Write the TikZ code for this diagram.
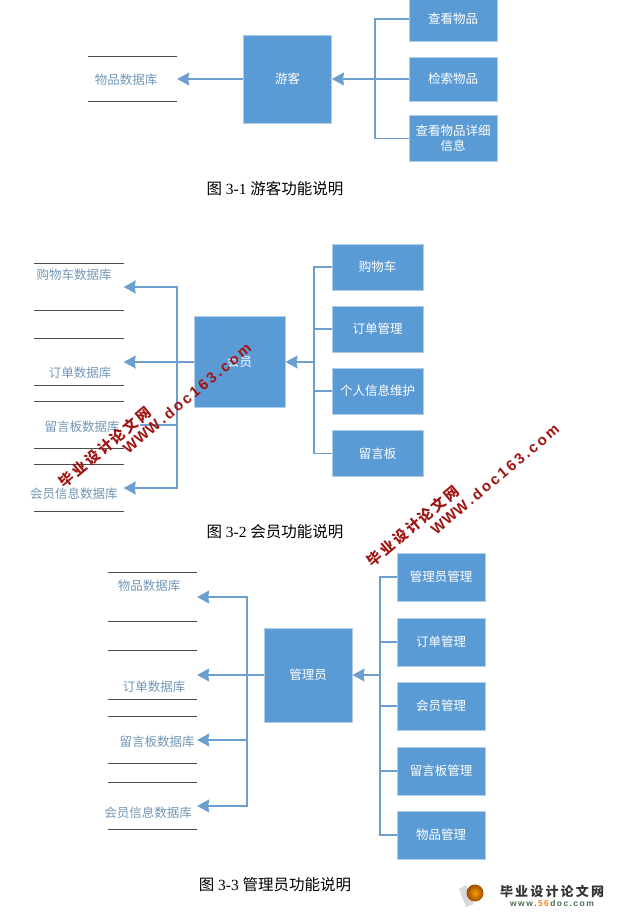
\documentclass[tikz,border=0pt]{standalone}
\usepackage{fontspec}
\setmainfont{Liberation Serif}
\newfontfamily\cjk{Noto Sans CJK SC}
\newfontfamily\wmfont[Scale=1]{Liberation Sans}
\usetikzlibrary{arrows.meta,calc}
\definecolor{boxblue}{HTML}{5B9BD5}
\definecolor{edgeblue}{HTML}{AFCDE8}
\definecolor{lineblue}{HTML}{6C9FCF}
\definecolor{dbtext}{HTML}{7397B8}
\definecolor{wmred}{HTML}{A01414}
\definecolor{logogreen}{HTML}{4F6B4F}
\tikzset{
  x=1pt,y=-1pt,
  bluebox/.style={draw=edgeblue,line width=1pt,fill=boxblue,text=white,inner sep=0pt,font=\cjk\fontsize{12.5}{15}\selectfont,align=center},
  leafbox/.style={bluebox,minimum width=88pt,minimum height=46pt},
  dbnode/.style={minimum width=89pt,inner sep=0pt},
  dblabel/.style={text=dbtext,font=\cjk\fontsize{12.5}{15}\selectfont,inner sep=0pt},
  dbrule/.style={draw=black!70,line width=0.9pt},
  conn/.style={draw=lineblue,line width=1.4pt},
  arr/.style={conn,-{Stealth[length=12pt,width=13pt,inset=1pt]}},
  caption/.style={inner sep=0pt,font=\fontsize{15.5}{18}\selectfont},
  wmcjk/.style={text=wmred,rotate=40,inner sep=0pt,font=\cjk\bfseries\fontsize{14.5}{17}\selectfont},
  wmlat/.style={text=wmred,rotate=40,inner sep=0pt,font=\wmfont\bfseries\fontsize{15}{17}\selectfont},
}
\newcommand{\dbstore}[4]{% name, x, ytop, ybottom
  \node[dbnode,minimum height=#4pt-#3pt] (#1) at (#2,{(#3+#4)/2}) {};
  \draw[dbrule] (#1.north west) -- (#1.north east) (#1.south west) -- (#1.south east);
}
\begin{document}
\begin{tikzpicture}
\useasboundingbox (0,0) rectangle (622,913);
\fill[white] (0,0) rectangle (622,913);
\begin{scope}
\clip (0,0) rectangle (622,913);
% ---------- Figure 3-1
\node[bluebox,minimum width=88pt,minimum height=88pt] (guest) at (287.5,79) {游客};
\node[leafbox,minimum height=44pt] (g1) at (453,19) {查看物品};
\node[leafbox,minimum height=44pt] (g2) at (453,79) {检索物品};
\node[leafbox] (g3) at (453,138.5) {查看物品详细\\信息};
\dbstore{gdb}{132.5}{57}{101}
\node[dblabel] (gdbl) at (126,80) {物品数据库};
\coordinate (gt) at (375,79);
\draw[conn] (g1.west) -| (gt) (g3.west) -| (gt) (g2.west) -- (gt);
\draw[arr] (gt) -- (guest.east);
\draw[arr] (guest.west) -- (gdb.east);
% ---------- Figure 3-2
\node[bluebox,minimum width=91pt,minimum height=91pt] (mem) at (239.5,362) {会员};
\node[leafbox,minimum width=91pt] (m1) at (377.5,267) {购物车};
\node[leafbox,minimum width=91pt] (m2) at (377.5,329) {订单管理};
\node[leafbox,minimum width=91pt] (m3) at (377.5,391) {个人信息维护};
\node[leafbox,minimum width=91pt] (m4) at (377.5,453.5) {留言板};
\coordinate (mt) at (314,362);
\draw[conn] (m1.west) -| (mt) (m4.west) -| (mt) (m2.west) -| (mt) (m3.west) -| (mt);
\draw[arr] (mt) -- (mem.east);
\dbstore{mdb1}{79}{264}{310}
\dbstore{mdb2}{79}{339}{385}
\dbstore{mdb3}{79}{402}{448}
\dbstore{mdb4}{79}{465}{511}
\coordinate (mlt) at (177,362);
\coordinate (mstub) at (140,425);
\draw[conn] (mem.west) -- (mlt);
\draw[arr] (mlt) |- (mdb1.east);
\draw[arr] (mlt) -- (mdb2.east);
\draw[arr] (mlt) |- (mdb4.east);
\draw[conn] (mlt) |- (mstub);
\node[dblabel] (mdl1) at (74,275) {购物车数据库};
\node[dblabel] (mdl2) at (80,373) {订单数据库};
\node[dblabel] (mdl3) at (82,427) {留言板数据库};
\node[dblabel] (mdl4) at (74,494) {会员信息数据库};
% ---------- Figure 3-3
\node[bluebox,minimum width=88pt,minimum height=94pt] (adm) at (308,675) {管理员};
\node[leafbox,minimum height=48pt] (a1) at (441,577) {管理员管理};
\node[leafbox,minimum height=48pt] (a2) at (441,642) {订单管理};
\node[leafbox,minimum height=48pt] (a3) at (441,706) {会员管理};
\node[leafbox,minimum height=48pt] (a4) at (441,771) {留言板管理};
\node[leafbox,minimum height=48pt] (a5) at (441,835) {物品管理};
\coordinate (at) at (380,675);
\draw[conn] (a1.west) -| (at) (a5.west) -| (at) (a2.west) -| (at) (a3.west) -| (at) (a4.west) -| (at);
\draw[arr] (at) -- (adm.east);
\dbstore{adb1}{152.5}{573}{621}
\dbstore{adb2}{152.5}{651}{699}
\dbstore{adb3}{152.5}{717}{763}
\dbstore{adb4}{152.5}{783}{829}
\coordinate (alt) at (247,675);
\draw[conn] (adm.west) -- (alt);
\draw[arr] (alt) |- (adb1.east);
\draw[arr] (alt) -- (adb2.east);
\draw[arr] (alt) |- (adb3.east);
\draw[arr] (alt) |- (adb4.east);
\node[dblabel] (adl1) at (149,586) {物品数据库};
\node[dblabel] (adl2) at (154,687) {订单数据库};
\node[dblabel] (adl3) at (157,742) {留言板数据库};
\node[dblabel] (adl4) at (148,813) {会员信息数据库};
% ---------- captions
\node[caption] (c1) at (275,189) {{\cjk 图} 3-1\ {\cjk 游客功能说明}};
\node[caption] (c2) at (275,532) {{\cjk 图} 3-2\ {\cjk 会员功能说明}};
\node[caption] (c3) at (275,885) {{\cjk 图} 3-3\ {\cjk 管理员功能说明}};
% ---------- watermarks
\node[wmcjk] (w1a) at (105,447) {毕\,业\,设\,计\,论\,文\,网};
\node[wmlat] (w1b) at (187,398) {W\hspace{0.5pt}W\hspace{0.5pt}W\,.\,d\,o\,c\,1\,6\,3\,.\,c\,o\,m};
\node[wmcjk] (w2a) at (413,526) {毕\,业\,设\,计\,论\,文\,网};
\node[wmlat] (w2b) at (495,479) {W\hspace{0.5pt}W\hspace{0.5pt}W\,.\,d\,o\,c\,1\,6\,3\,.\,c\,o\,m};
% ---------- logo
\fill[black!15] (459,889) -- (466,885) -- (474,904) -- (466,907) -- cycle;
\shade[inner color=orange!80!yellow,outer color=orange!60!black] (475,893) circle (8.5);
\node[inner sep=0pt,text=black!80,font=\cjk\bfseries\fontsize{13}{15}\selectfont] (l1) at (552,891) {毕\,业\,设\,计\,论\,文\,网};
\node[inner sep=0pt,text=logogreen,font=\wmfont\bfseries\fontsize{8.5}{10}\selectfont] (l2) at (552,903) {w\,w\,w\,.\,\textcolor{orange}{5\,6}\,d\,o\,c\,.\,c\,o\,m};
\end{scope}
\end{tikzpicture}
\end{document}
